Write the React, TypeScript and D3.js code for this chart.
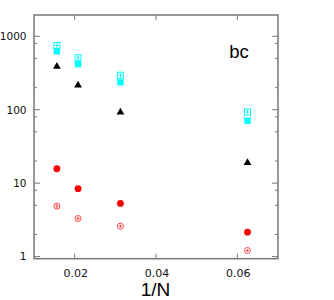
import React from "react";
import * as d3 from "d3";

// system sizes N = 64, 48, 32, 16 -> plotted against 1/N
const invN = [1 / 64, 1 / 48, 1 / 32, 1 / 16];

const cyanOpen = [750, 510, 295, 93];
const cyanOpenErr = [55, 35, 18, 5];
const cyanFilled = [625, 417, 236, 71];
const blackTri = [394, 219, 94, 19.3];
const redFilled = [15.7, 8.4, 5.3, 2.15];
const redOpen = [4.87, 3.3, 2.6, 1.21];
const redOpenErr = [0.35, 0.18, 0.12, 0.05];

const xTicks = [0.02, 0.04, 0.06];
const yMajor = [1, 10, 100, 1000];
const yMinorMult = [2, 5, 8];

const margin = { top: 15, right: 56, bottom: 41.3, left: 34 };
const W = 334;
const H = 300;

export default function App() {
  const x = d3.scaleLinear().domain([0.01, 0.07]).range([margin.left, W - margin.right]);
  const y = d3.scaleLog().domain([0.936, 1950]).range([H - margin.bottom, margin.top]);

  const x0 = margin.left;
  const x1 = W - margin.right;
  const y0 = H - margin.bottom;
  const y1 = margin.top;

  const minors: number[] = [];
  [1, 10, 100, 1000].forEach((d) => yMinorMult.forEach((m) => {
    const v = d * m;
    if (v < 1950) minors.push(v);
  }));

  const axisCol = "#777";
  const tri = d3.symbol().type(d3.symbolTriangle).size(26)();

  return (
    <svg width={W} height={H} style={{ position: "absolute", left: 0, top: 0, background: "#fff" }}>
      {/* frame */}
      <rect x={x0} y={y1} width={x1 - x0} height={y0 - y1} fill="none" stroke={axisCol} strokeWidth={1.5} />

      {/* x ticks, bottom and top */}
      {xTicks.map((t) => (
        <g key={"xt" + t}>
          <line x1={x(t)} x2={x(t)} y1={y0} y2={y0 - 5} stroke={axisCol} />
          <line x1={x(t)} x2={x(t)} y1={y1} y2={y1 + 5} stroke={axisCol} />
          <text x={x(t) + 1} y={276.5} textAnchor="middle" fontFamily="DejaVu Sans" fontSize={11} fill="#111">
            {t.toFixed(2)}
          </text>
        </g>
      ))}

      {/* y ticks, left and right */}
      {yMajor.map((t) => (
        <g key={"yt" + t}>
          <line x1={x0} x2={x0 + 6} y1={y(t)} y2={y(t)} stroke={axisCol} />
          <line x1={x1} x2={x1 - 6} y1={y(t)} y2={y(t)} stroke={axisCol} />
          <text x={26.5} y={y(t)} dy="0.36em" textAnchor="end" fontFamily="DejaVu Sans" fontSize={10.5} fill="#111">
            {t}
          </text>
        </g>
      ))}
      {minors.map((t) => (
        <g key={"ym" + t}>
          <line x1={x0} x2={x0 + 3} y1={y(t)} y2={y(t)} stroke={axisCol} />
          <line x1={x1} x2={x1 - 3} y1={y(t)} y2={y(t)} stroke={axisCol} />
        </g>
      ))}

      {/* cyan open squares with error bars */}
      {invN.map((n, i) => {
        const cx = x(n);
        const cy = y(cyanOpen[i]);
        return (
          <g key={"co" + i}>
            <rect x={cx - 3} y={cy - 3} width={6} height={6} fill="#fff" stroke="#00ffff" strokeWidth={1} />
            <line x1={cx} x2={cx} y1={y(cyanOpen[i] + cyanOpenErr[i])} y2={y(cyanOpen[i] - cyanOpenErr[i])} stroke="#00ffff" />
            <line x1={cx - 1.5} x2={cx + 1.5} y1={cy} y2={cy} stroke="#00ffff" />
          </g>
        );
      })}

      {/* cyan filled squares */}
      {invN.map((n, i) => (
        <rect key={"cf" + i} x={x(n) - 3.2} y={y(cyanFilled[i]) - 3.2} width={6.4} height={6.4} fill="#00ffff" />
      ))}

      {/* black triangles */}
      {invN.map((n, i) => (
        <path key={"bt" + i} d={tri || ""} transform={`translate(${x(n)},${y(blackTri[i]) + 0.5})`} fill="#000" />
      ))}

      {/* red filled circles */}
      {invN.map((n, i) => (
        <circle key={"rf" + i} cx={x(n)} cy={y(redFilled[i])} r={3.4} fill="#ff0000" />
      ))}

      {/* red open circles with error bars */}
      {invN.map((n, i) => {
        const cx = x(n);
        const cy = y(redOpen[i]);
        return (
          <g key={"ro" + i}>
            <circle cx={cx} cy={cy} r={3} fill="none" stroke="#ff3030" strokeWidth={0.9} />
            <line x1={cx} x2={cx} y1={y(redOpen[i] + redOpenErr[i])} y2={y(redOpen[i] - redOpenErr[i])} stroke="#ff3030" strokeWidth={0.9} />
            <line x1={cx - 1.5} x2={cx + 1.5} y1={cy} y2={cy} stroke="#ff3030" strokeWidth={0.9} />
          </g>
        );
      })}

      <text x={239} y={58} textAnchor="middle" fontFamily="Liberation Sans" fontSize={18.5} fill="#000">bc</text>
      <text x={155.5} y={295.5} textAnchor="middle" fontFamily="Liberation Sans" fontSize={19} fill="#000">1/N</text>
    </svg>
  );
}
